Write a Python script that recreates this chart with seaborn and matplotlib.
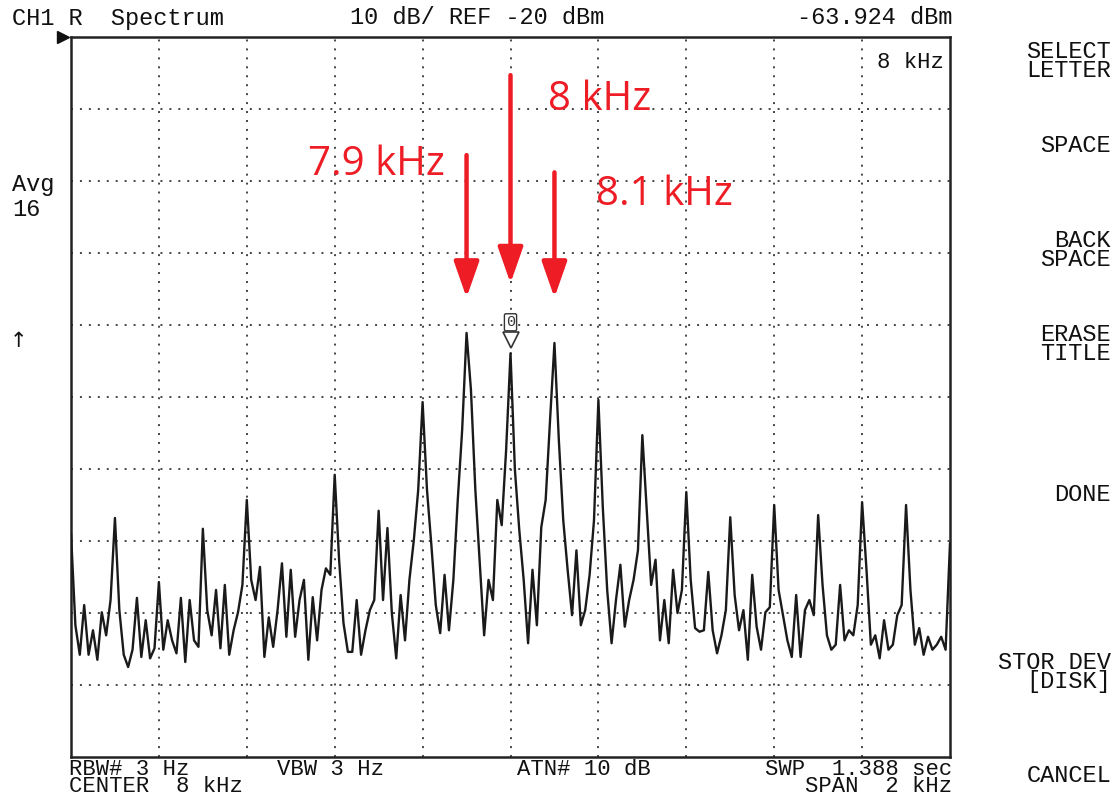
import numpy as np
import pandas as pd
import matplotlib
matplotlib.use("Agg")
import matplotlib.pyplot as plt
import seaborn as sns

# ---- analyzer settings ----
CENTER_KHZ = 8.0
SPAN_KHZ = 2.0
REF_DBM = -20.0
DB_PER_DIV = 10.0
N_DIV = 10

# ---- averaged trace, one reading every 10 Hz from 7 kHz to 9 kHz (dBm) ----
level_dbm = [
    -89.0, -101.7, -105.8, -98.9, -105.8, -102.4, -106.5, -99.9, -103.1, -98.2,
    -86.8, -99.6, -105.8, -107.5, -105.1, -97.9, -106.1, -101.0, -106.3, -104.9,
    -95.7, -105.1, -101.0, -103.8, -105.6, -97.9, -106.8, -98.2, -103.8, -104.7,
    -88.3, -99.6, -103.1, -96.8, -104.9, -96.1, -105.8, -102.4, -99.9, -96.1,
    -84.3, -95.4, -98.2, -93.6, -106.1, -100.6, -104.7, -99.6, -93.1, -103.3,
    -94.0, -103.3, -98.2, -95.4, -106.5, -97.8, -103.8, -96.8, -93.8, -94.7,
    -80.8, -92.6, -101.4, -105.4, -105.4, -98.2, -105.8, -102.4, -99.6, -98.2,
    -85.8, -98.2, -88.2, -100.0, -106.3, -97.5, -103.8, -95.4, -89.9, -82.9,
    -70.7, -82.9, -90.6, -98.9, -102.8, -94.7, -102.4, -95.4, -84.3, -74.6,
    -61.1, -69.0, -82.9, -93.1, -103.1, -95.4, -98.2, -84.3, -87.8, -77.4,
    -63.924, -80.1, -88.5, -95.4, -104.2, -94.0, -101.7, -88.1, -84.3, -73.2,
    -62.5, -76.0, -87.1, -94.0, -100.3, -91.3, -101.7, -99.6, -94.7, -87.1,
    -70.4, -85.3, -96.8, -104.2, -98.2, -93.3, -101.9, -98.2, -95.4, -91.3,
    -75.3, -85.7, -96.1, -92.6, -103.8, -98.2, -104.2, -94.0, -100.0, -96.8,
    -83.2, -95.4, -102.1, -102.6, -102.4, -94.3, -102.4, -105.6, -103.1, -99.6,
    -86.7, -97.5, -102.4, -99.6, -106.5, -94.7, -101.9, -105.1, -99.9, -99.2,
    -85.0, -96.8, -100.3, -103.8, -106.1, -97.5, -106.1, -99.6, -98.2, -100.3,
    -86.4, -96.1, -103.1, -105.1, -104.4, -96.1, -103.8, -102.4, -103.1, -98.9,
    -84.6, -94.0, -104.4, -103.1, -106.3, -101.0, -105.1, -104.4, -100.3, -98.9,
    -85.0, -96.8, -104.4, -102.1, -105.8, -103.3, -105.1, -104.4, -103.3, -105.1,
    -90.3,
]
freq_khz = np.linspace(CENTER_KHZ - SPAN_KHZ / 2, CENTER_KHZ + SPAN_KHZ / 2, len(level_dbm))

# marker 0 readout
marker_khz = 8.0
marker_dbm = -63.924

# highlighted sidebands
annot_khz = [7.9, 8.0, 8.1]
annot_labels = ["7.9 kHz", "8 kHz", "8.1 kHz"]

header_left = "CH1 R  Spectrum"
header_mid = "10 dB/ REF -20 dBm"
header_right = "-63.924 dBm"
footer_blocks = ["RBW# 3 Hz\nCENTER  8 kHz", "VBW 3 Hz", "ATN# 10 dB"]
footer_right = "SWP  1.388 sec\nSPAN  2 kHz"
softkeys = ["SELECT\nLETTER", "SPACE", "BACK\nSPACE", "ERASE\nTITLE",
            "DONE", "STOR DEV\n[DISK]", "CANCEL"]

df = pd.DataFrame({"freq": freq_khz, "level": level_dbm})

# ---- figure ----
sns.set_theme(style="white")
plt.rcParams["font.family"] = ["Liberation Mono", "DejaVu Sans Mono"]

W, H = 1116, 802
fig = plt.figure(figsize=(W / 100, H / 100), dpi=100, facecolor="white")
ax = fig.add_axes([71 / W, 1 - 757 / H, (950 - 71) / W, (757 - 37) / H])
ax.set_facecolor("white")

sns.lineplot(data=df, x="freq", y="level", ax=ax, color="#1a1a1a", lw=1.7,
             legend=False, zorder=3)

f0 = CENTER_KHZ - SPAN_KHZ / 2
f1 = CENTER_KHZ + SPAN_KHZ / 2
bottom = REF_DBM - N_DIV * DB_PER_DIV
ax.set_xlim(f0, f1)
ax.set_ylim(bottom, REF_DBM)
ax.set_xticks(np.linspace(f0, f1, N_DIV + 1)[1:-1])
ax.set_yticks(np.linspace(bottom, REF_DBM, N_DIV + 1)[1:-1])
ax.tick_params(length=0, labelbottom=False, labelleft=False)
ax.set_xlabel("")
ax.set_ylabel("")
ax.grid(True, color="#444444", lw=1.4, linestyle=(0, (1, 3.6)))
for s in ax.spines.values():
    s.set_color("#222222")
    s.set_linewidth(1.8)

# reference-level pointer at the top-left corner
ax.plot([-0.009], [1.0], marker=">", ms=9, color="#111111",
        transform=ax.transAxes, clip_on=False, zorder=6)

# marker 0
ax.plot([marker_khz], [marker_dbm + 1.8], marker="v", ms=12, mfc="white",
        mec="#333333", mew=1.2, zorder=4)
ax.text(marker_khz, marker_dbm + 4.3, "0", ha="center", va="center", fontsize=11,
        color="#333333", zorder=4,
        bbox=dict(boxstyle="round,pad=0.1", fc="white", ec="#333333", lw=1.0))
ax.text(0.993, 0.965, "8 kHz", transform=ax.transAxes, ha="right", va="center",
        fontsize=16, color="#111111")

# red call-outs
red = "#ee1c24"
arrow_tail = [-36.4, -25.3, -38.8]
arrow_tip = [-56.2, -54.2, -56.2]
for fk, t0, t1 in zip(annot_khz, arrow_tail, arrow_tip):
    ax.annotate("", xy=(fk, t1), xytext=(fk, t0),
                arrowprops=dict(arrowstyle="-|>,head_length=1.0,head_width=0.35",
                                color=red, lw=3.2, shrinkA=0, shrinkB=0,
                                mutation_scale=22), zorder=5)
label_px = [(308, 165), (548, 100), (596, 195)]
for (px, py), lab in zip(label_px, annot_labels):
    fig.text(px / W, 1 - py / H, lab, ha="left", va="center", color=red,
             fontsize=29, family=["Open Sans", "DejaVu Sans"])

# ---- screen annotations ----
def ftxt(x, y, s, ha="left", size=17, va="center", ls=0.82):
    fig.text(x / W, 1 - y / H, s, ha=ha, va=va, fontsize=size, color="#111111",
             linespacing=ls, multialignment=ha)

ftxt(12, 18, header_left)
ftxt(350, 18, header_mid)
ftxt(952, 18, header_right, ha="right")

ftxt(12, 185, "Avg")
ftxt(12, 210, "16")
fig.text(18 / W, 1 - 341 / H, "\u2191", ha="center", va="center", fontsize=15,
         color="#111111", family="DejaVu Sans")

# footer: two-line status blocks under the graticule
foot_x = [69, 277, 517]
for x, s in zip(foot_x, footer_blocks):
    ftxt(x, 759, s, va="top", size=16, ls=0.72)
ftxt(952, 759, footer_right, ha="right", va="top", size=16, ls=0.72)

# softkey labels
key_y = [61, 146, 250, 344, 494, 672, 776]
for s, y in zip(softkeys, key_y):
    ftxt(1111, y, s, ha="right")

fig.savefig("out.png", dpi=100, facecolor="white")
